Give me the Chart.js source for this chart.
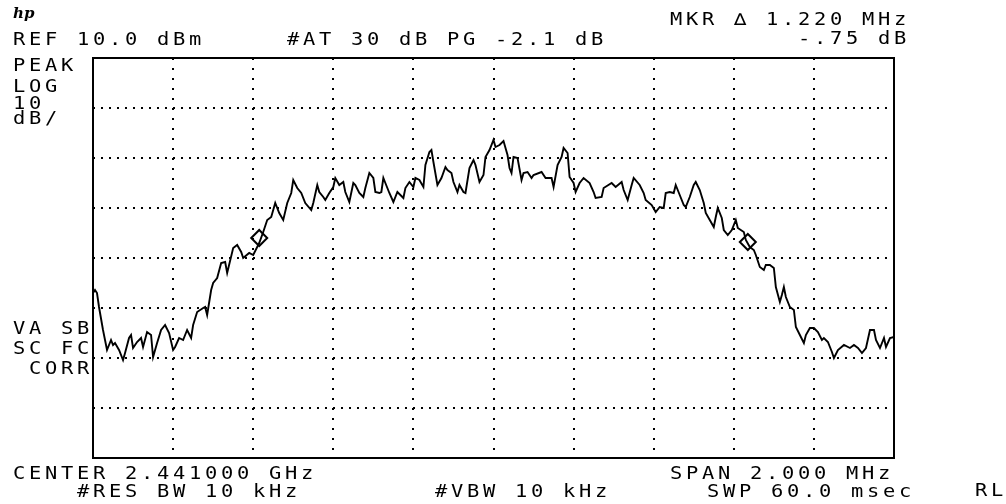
<!DOCTYPE html>
<html>
<head>
<meta charset="utf-8">
<script src="https://cdn.jsdelivr.net/npm/chart.js@4.4.1/dist/chart.umd.min.js"></script>
<style>
  body { margin: 0; background: #fff; }
  #wrap { position: relative; width: 1006px; height: 504px; }
  .t { position: absolute; font: 17px "DejaVu Sans Mono", monospace; line-height: 17px;
       letter-spacing: 3.1px; white-space: pre; color: #000;
       transform: scaleX(1.2); transform-origin: 0 0; }
  .hp { position: absolute; left: 13px; top: 4px; font: italic bold 15px "DejaVu Serif", serif; }
</style>
</head>
<body>
<div id="wrap">
  <canvas id="trace" width="1006" height="504"></canvas>
  <div class="hp">hp</div>
  <div class="t" style="left:13px;top:31px">REF 10.0 dBm</div>
  <div class="t" style="left:287px;top:31px">#AT 30 dB PG -2.1 dB</div>
  <div class="t" style="left:670px;top:11px">MKR ∆ 1.220 MHz</div>
  <div class="t" style="left:798px;top:30px">-.75 dB</div>
  <div class="t" style="left:13px;top:57px">PEAK</div>
  <div class="t" style="left:13px;top:78px">LOG</div>
  <div class="t" style="left:13px;top:95px">10</div>
  <div class="t" style="left:13px;top:110px">dB/</div>
  <div class="t" style="left:13px;top:320px">VA SB</div>
  <div class="t" style="left:13px;top:340px">SC FC</div>
  <div class="t" style="left:13px;top:360px"> CORR</div>
  <div class="t" style="left:13px;top:465px">CENTER 2.441000 GHz</div>
  <div class="t" style="left:77px;top:483px">#RES BW 10 kHz</div>
  <div class="t" style="left:435px;top:483px">#VBW 10 kHz</div>
  <div class="t" style="left:670px;top:465px">SPAN 2.000 MHz</div>
  <div class="t" style="left:707px;top:483px">SWP 60.0 msec</div>
  <div class="t" style="left:975px;top:482px">RL</div>
</div>
<script>
// trace points (0..400 across the 2 MHz span) and level in dBm
var tracePoint = [0, 1, 2, 3, 5, 6, 7, 9, 10, 11, 13, 15, 16, 18, 19, 20, 22, 24, 25, 27,
  29, 30, 32, 34, 36, 38, 40, 41, 43, 45, 47, 49, 50, 52, 55, 56, 57, 59, 60, 62,
  64, 66, 67, 70, 72, 74, 75, 78, 80, 83, 85, 87, 89, 91, 93, 95, 97, 99, 100, 102,
  104, 106, 109, 110, 112, 113, 115, 116, 118, 120, 121, 123, 125, 126, 128, 130, 131, 133, 135, 136,
  138, 140, 141, 143, 144, 145, 146, 148, 150, 152, 155, 156, 158, 160, 161, 163, 165, 166, 168, 169,
  170, 172, 174, 176, 177, 179, 180, 182, 183, 185, 186, 188, 190, 191, 193, 195, 196, 198, 200, 201,
  203, 205, 207, 208, 209, 210, 212, 214, 215, 217, 219, 220, 224, 226, 229, 230, 232, 234, 235, 237,
  238, 240, 241, 243, 245, 248, 250, 251, 254, 255, 259, 261, 264, 265, 267, 269, 270, 273, 275, 276,
  279, 281, 283, 285, 286, 288, 290, 291, 293, 295, 296, 298, 300, 301, 303, 305, 306, 308, 310, 311,
  312, 314, 315, 317, 319, 321, 322, 325, 326, 328, 330, 331, 333, 335, 336, 338, 340, 341, 343, 344,
  345, 346, 348, 350, 351, 353, 355, 356, 358, 360, 362, 364, 365, 367, 369, 370, 372, 375, 378, 380,
  382, 384, 386, 388, 390, 391, 393, 395, 396, 398, 400];
var traceDbm = [-37.0, -36.4, -37.0, -39.8, -44.4, -46.4, -48.4, -46.4, -47.4, -47.0, -48.4, -50.4, -49.0, -46.0, -45.4, -48.0, -46.8, -46.0, -47.8, -44.8,
  -45.4, -49.8, -47.0, -44.4, -43.4, -45.0, -48.4, -47.8, -46.0, -46.4, -44.4, -46.0, -43.4, -40.8, -40.0, -39.8, -41.4, -36.4, -35.0, -34.0,
  -31.0, -30.8, -33.0, -28.0, -27.4, -28.8, -30.0, -29.0, -29.4, -27.0, -24.8, -22.4, -21.8, -19.0, -21.0, -22.4, -19.0, -17.0, -14.4, -16.0,
  -17.0, -19.0, -20.4, -19.0, -15.4, -16.8, -17.8, -18.4, -17.0, -15.8, -14.0, -15.4, -14.8, -16.8, -18.8, -15.0, -15.4, -17.0, -17.8, -16.0,
  -13.0, -14.0, -16.8, -17.0, -16.8, -14.0, -15.0, -17.0, -18.8, -16.8, -18.0, -16.0, -14.8, -15.8, -14.0, -14.4, -15.8, -11.4, -8.8, -8.4,
  -10.8, -15.4, -14.0, -11.8, -12.4, -13.0, -14.8, -16.8, -15.4, -16.8, -17.0, -12.0, -10.4, -11.4, -14.8, -13.4, -9.8, -8.4, -6.4, -7.8,
  -7.4, -6.6, -9.4, -12.0, -13.0, -9.8, -10.0, -14.4, -13.0, -12.8, -14.0, -13.4, -12.8, -14.0, -14.0, -15.8, -11.4, -9.8, -8.0, -9.0,
  -13.8, -15.0, -16.8, -15.0, -14.0, -15.0, -16.8, -18.0, -17.8, -16.0, -15.0, -15.8, -14.8, -16.4, -18.4, -15.4, -14.0, -15.4, -17.0, -18.4,
  -19.4, -20.8, -19.8, -20.0, -17.0, -16.8, -17.0, -15.4, -17.4, -19.4, -19.8, -17.8, -15.4, -14.8, -16.4, -19.0, -21.0, -22.4, -23.8, -21.8,
  -20.0, -22.0, -24.4, -25.4, -24.4, -22.4, -24.0, -24.8, -26.4, -27.8, -28.4, -29.4, -31.8, -32.4, -31.4, -31.4, -32.0, -35.8, -38.8, -37.4,
  -35.8, -37.8, -39.8, -40.4, -43.8, -45.4, -47.0, -45.4, -44.0, -44.0, -44.8, -46.4, -46.0, -46.8, -48.8, -50.0, -48.4, -47.4, -48.0, -47.4,
  -48.0, -49.0, -48.0, -44.4, -44.4, -46.4, -48.0, -46.0, -47.8, -46.0, -45.8];

// delta marker pair (1.220 MHz apart = 244 trace points)
var markerPoint = [83, 327];
var markerDbm = [-26.0, -26.8];

var refLevel = 10;     // dBm, top graticule
var dbPerDiv = 10;
var vDivs = 8;
var hDivs = 10;
var nPoints = 400;

var frame = {
  id: 'frame',
  afterDraw: function (chart) {
    var a = chart.chartArea, ctx = chart.ctx;
    ctx.save();
    ctx.strokeStyle = '#000';
    ctx.lineWidth = 2;
    ctx.strokeRect(a.left, a.top, a.right - a.left, a.bottom - a.top);
    ctx.restore();
  }
};

new Chart(document.getElementById('trace').getContext('2d'), {
  type: 'line',
  data: {
    datasets: [{
      data: tracePoint.map(function (p, i) { return { x: p, y: traceDbm[i] }; }),
      borderColor: '#000',
      borderWidth: 1.9,
      pointRadius: 0,
      tension: 0
    }, {
      data: markerPoint.map(function (p, i) { return { x: p, y: markerDbm[i] }; }),
      showLine: false,
      pointStyle: 'rectRot',
      pointRadius: 8,
      borderColor: '#000',
      borderWidth: 2,
      backgroundColor: 'rgba(0,0,0,0)'
    }]
  },
  options: {
    responsive: false,
    animation: false,
    layout: { padding: { left: 93, top: 58, right: 112, bottom: 46 } },
    plugins: { legend: { display: false }, tooltip: { enabled: false } },
    scales: {
      x: {
        type: 'linear', min: 0, max: nPoints,
        ticks: { display: false, stepSize: nPoints / hDivs },
        grid: { color: '#000', lineWidth: 2, drawTicks: false },
        border: { display: false, dash: [2, 8] }
      },
      y: {
        min: refLevel - dbPerDiv * vDivs, max: refLevel,
        ticks: { display: false, stepSize: dbPerDiv },
        grid: { color: '#000', lineWidth: 2, drawTicks: false },
        border: { display: false, dash: [2, 6] }
      }
    }
  },
  plugins: [frame]
});
</script>
</body>
</html>
